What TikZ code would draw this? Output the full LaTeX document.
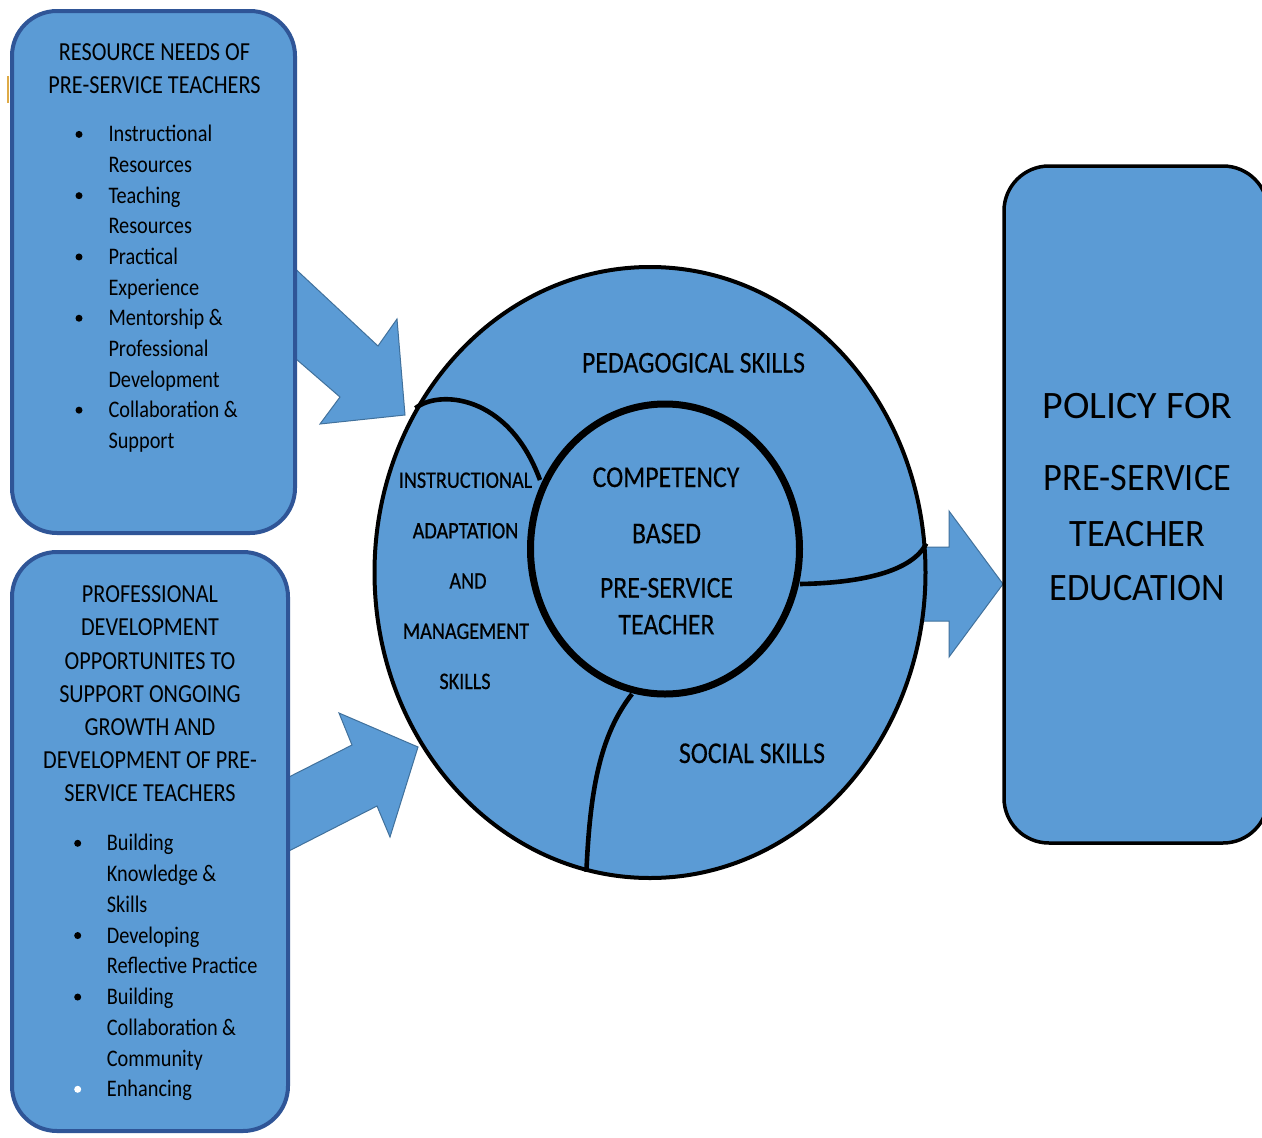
\documentclass[tikz,border=0pt]{standalone}
\usepackage{fontspec}
\setmainfont{Carlito}
\newfontfamily\embf{Carlito}[FakeBold=0.7]
\newfontfamily\embl{Carlito}[FakeBold=0.3]
\usepackage{graphicx}
\usetikzlibrary{shapes.geometric}
\definecolor{blu}{RGB}{91,155,213}
\definecolor{bbord}{RGB}{47,85,151}
\definecolor{aline}{RGB}{65,113,156}
\definecolor{marko}{RGB}{222,170,70}
\newcommand\vs[1]{\scalebox{1}[1.17]{#1}}
\newcommand\fTitle{\fontsize{22.2pt}{26pt}\selectfont}
\newcommand\fBul{\fontsize{20.3pt}{24pt}\selectfont}
\newcommand\fBig{\embl\fontsize{25.8pt}{30pt}\selectfont}
\newcommand\fSm{\embf\fontsize{20.2pt}{24pt}\selectfont}
\newcommand\fPol{\fontsize{36.3pt}{40pt}\selectfont}
\begin{document}
\begin{tikzpicture}[x=1pt,y=-1pt,
  ln/.style={anchor=base,inner sep=0pt,text=black},
  lnw/.style={anchor=base west,inner sep=0pt,text=black},
  dot/.style={circle,fill=black,minimum size=7pt,inner sep=0pt},
  wdot/.style={circle,fill=white,minimum size=7pt,inner sep=0pt},
  blockarrow/.style={fill=blu,draw=aline,line width=1pt,line join=miter},
  sidebox/.style={rectangle,rounded corners=45pt,fill=blu,draw=bbord,line width=4pt},
  polbox/.style={rectangle,rounded corners=45pt,fill=blu,draw=black,line width=3.5pt},
  divider/.style={draw=black,line width=4.6pt}]
\useasboundingbox (0,0) rectangle (1262,1138);
\fill[white] (0,0) rectangle (1262,1138);
% block arrows
\path[blockarrow] (288,262) -- (378,346) -- (397,319) -- (405,415) -- (320,424) -- (340,397) -- (288,352) -- cycle;
\path[blockarrow] (283,780) -- (352,745) -- (339,713) -- (418,747) -- (390,837) -- (377,806) -- (283,854) -- cycle;
\path[blockarrow] (915,547) -- (949,547) -- (949,511) -- (1003,584) -- (949,657) -- (949,621) -- (915,621) -- cycle;
% side boxes
\node[sidebox,minimum width=283pt,minimum height=522pt] (res) at (153.5,272) {};
\draw[marko,line width=2pt] (8,76) -- (8,103);
\node[sidebox,minimum width=276pt,minimum height=579pt] (prof) at (150,841.5) {};
% policy box
\node[polbox,minimum width=264pt,minimum height=677pt] (pol) at (1136,504.5) {};
% circles
\node[ellipse,fill=blu,draw=black,line width=4pt,minimum width=551pt,minimum height=611pt,inner sep=0pt] (outer) at (650,572.5) {};
\draw[divider] (outer.145) .. controls (438,390) and (508,393) .. (540,480);
\draw[divider] (632,694) .. controls (600,735) and (590,790) .. (outer.258);
\draw[divider] (800,584) .. controls (860,583) and (912,572) .. (outer.6);
\node[ellipse,fill=blu,draw=black,line width=7pt,minimum width=269pt,minimum height=290pt,inner sep=0pt] (inner) at (665,549) {};
% box 1 text
\node[ln] (r1t1) at (154.5,60.3) {\fTitle\vs{RESOURCE NEEDS OF}};
\node[ln] (r1t2) at (154.5,93.7) {\fTitle\vs{PRE-SERVICE TEACHERS}};
\foreach \t [count=\i from 0] in {Instructional,Resources,Teaching,Resources,Practical,Experience,Mentorship \&,Professional,Development,Collaboration \&,Support}
  \node[lnw] (ra\i) at (108.3,{141.9+30.64*\i}) {\fBul\vs{\t}};
\foreach \i in {0,2,4,6,9}
  \node[dot] (rb\i) at (79,{141.9+30.64*\i-7.5}) {};
% box 2 text
\foreach \t [count=\i from 0] in {PROFESSIONAL,DEVELOPMENT,OPPORTUNITES TO,SUPPORT ONGOING,GROWTH AND,DEVELOPMENT OF PRE-,SERVICE TEACHERS}
  \node[ln] (pt\i) at (150,{602.9+33.05*\i}) {\fTitle\vs{\t}};
\foreach \t [count=\i from 0] in {Building,Knowledge \&,Skills,Developing,Reflective Practice,Building,Collaboration \&,Community,Enhancing}
  \node[lnw] (pa\i) at (106.7,{850.8+30.75*\i}) {\fBul\vs{\t}};
\foreach \i in {0,3,5}
  \node[dot] (pb\i) at (77.7,{850.8+30.75*\i-7.5}) {};
\node[wdot] (pb8) at (77.7,{850.8+30.75*8-7.5}) {};
% circle text
\node[ln] (ped) at (693.5,372.5) {\fBig\vs{PEDAGOGICAL SKILLS}};
\node[ln] (ia1) at (465.5,487.8) {\fSm\vs{INSTRUCTIONAL}};
\node[ln] (ia2) at (465.5,538.4) {\fSm\vs{ADAPTATION}};
\node[ln] (ia3) at (468,588.6) {\fSm\vs{AND}};
\node[ln] (ia4) at (466,638.9) {\fSm\vs{MANAGEMENT}};
\node[ln] (ia5) at (465,689) {\fSm\vs{SKILLS}};
\node[ln] (cb1) at (666,487) {\fBig\vs{COMPETENCY}};
\node[ln] (cb2) at (666.5,543.2) {\fBig\vs{BASED}};
\node[ln] (cb3) at (666.5,597.5) {\fBig\vs{PRE-SERVICE}};
\node[ln] (cb4) at (666.5,634.4) {\fBig\vs{TEACHER}};
\node[ln] (soc) at (752,763) {\fBig\vs{SOCIAL SKILLS}};
% policy text
\node[ln] (pl1) at (1137.5,418.3) {\fPol\scalebox{1.1}[1.07]{POLICY FOR}};
\node[ln] (pl2) at (1137.5,490) {\fPol\scalebox{1}[1.07]{PRE-SERVICE}};
\node[ln] (pl3) at (1137.5,546.7) {\fPol\scalebox{1}[1.07]{TEACHER}};
\node[ln] (pl4) at (1137.5,600.7) {\fPol\scalebox{1}[1.07]{EDUCATION}};
\end{tikzpicture}
\end{document}
